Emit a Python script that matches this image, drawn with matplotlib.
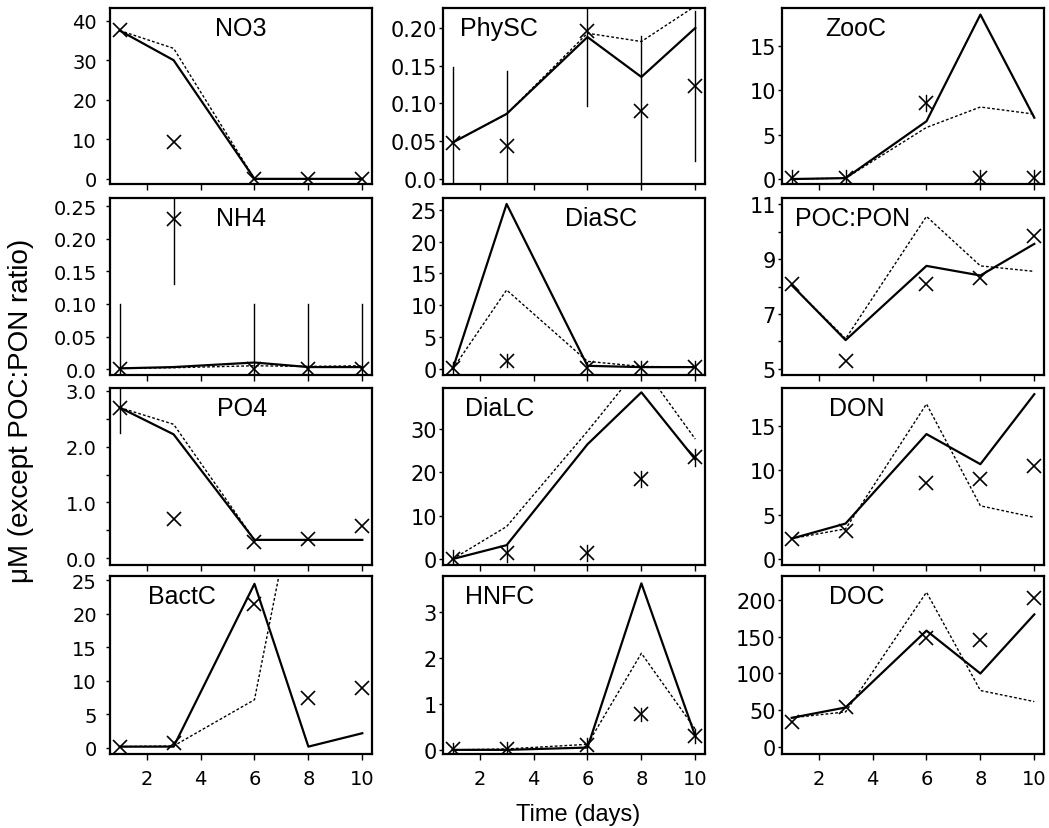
import matplotlib
matplotlib.use("Agg")
import matplotlib.pyplot as plt
import numpy as np

plt.rcParams['font.family'] = ['Liberation Sans', 'DejaVu Sans']

days = [1, 3, 6, 8, 10]

# solid = model run, dotted = alternative run, obs = measured (x), sd = error bar
no3_model = [37.5, 30.0, 0.0, 0.0, 0.0]
no3_alt = [37.5, 33.0, 0.0, 0.0, 0.0]
no3_obs = [37.7, 9.2, 0.0, 0.0, 0.0]
no3_sd = [0, 0, 0, 0, 0]

physc_model = [0.048, 0.086, 0.188, 0.135, 0.200]
physc_alt = [0.048, 0.086, 0.193, 0.182, 0.229]
physc_obs = [0.048, 0.043, 0.196, 0.090, 0.123]
physc_sd = [0.10, 0.10, 0.10, 0.10, 0.10]

zooc_model = [0.0, 0.1, 6.5, 18.5, 6.9]
zooc_alt = [0.0, 0.1, 5.8, 8.1, 7.3]
zooc_obs = [0.1, 0.1, 8.6, 0.1, 0.1]
zooc_sd = [0.9, 0.9, 0.9, 0.9, 0.9]

nh4_model = [0.001, 0.003, 0.010, 0.003, 0.003]
nh4_alt = [0.001, 0.002, 0.005, 0.004, 0.005]
nh4_obs = [0.0, 0.23, 0.0, 0.0, 0.0]
nh4_sd = [0.10, 0.10, 0.10, 0.10, 0.10]

diasc_model = [0.0, 25.9, 0.5, 0.3, 0.3]
diasc_alt = [0.0, 12.4, 1.2, 0.4, 0.3]
diasc_obs = [0.1, 1.3, 0.1, 0.2, 0.3]
diasc_sd = [1.0, 1.0, 1.0, 1.0, 1.0]

cn_model = [8.05, 6.05, 8.75, 8.4, 9.55]
cn_alt = [8.05, 6.1, 10.55, 8.75, 8.55]
cn_obs = [8.1, 5.3, 8.1, 8.3, 9.85]
cn_sd = [0, 0, 0, 0, 0]

po4_model = [2.70, 2.22, 0.33, 0.33, 0.33]
po4_alt = [2.70, 2.40, 0.33, 0.33, 0.33]
po4_obs = [2.70, 0.70, 0.30, 0.35, 0.58]
po4_sd = [0.45, 0, 0, 0, 0]

dialc_model = [0.0, 3.2, 26.5, 38.5, 23.0]
dialc_alt = [0.0, 7.5, 29.5, 44.9, 27.7]
dialc_obs = [0.1, 1.3, 1.4, 18.5, 23.5]
dialc_sd = [1.9, 1.9, 1.9, 1.9, 1.9]

don_model = [2.3, 4.0, 14.1, 10.7, 18.6]
don_alt = [2.3, 3.4, 17.5, 6.0, 4.7]
don_obs = [2.3, 3.2, 8.6, 9.0, 10.5]
don_sd = [0, 0, 0, 0, 0]

bactc_model = [0.2, 0.2, 24.5, 0.2, 2.2]
bactc_alt = [0.2, 0.3, 7.2, 48.0, 45.0]
bactc_obs = [0.1, 0.7, 21.5, 7.5, 9.0]
bactc_sd = [0, 0, 0, 0, 0]

hnfc_model = [0.0, 0.0, 0.05, 3.62, 0.3]
hnfc_alt = [0.0, 0.02, 0.12, 2.1, 0.45]
hnfc_obs = [0.01, 0.02, 0.1, 0.77, 0.3]
hnfc_sd = [0.15, 0.15, 0.15, 0.15, 0.15]

doc_model = [40, 54, 158, 100, 180]
doc_alt = [40, 48, 210, 77, 62]
doc_obs = [35, 55, 148, 145, 202]
doc_sd = [0, 0, 0, 0, 0]

names = ['NO3', 'PhySC', 'ZooC', 'NH4', 'DiaSC', 'POC:PON',
         'PO4', 'DiaLC', 'DON', 'BactC', 'HNFC', 'DOC']
series = [
    (no3_model, no3_alt, no3_obs, no3_sd),
    (physc_model, physc_alt, physc_obs, physc_sd),
    (zooc_model, zooc_alt, zooc_obs, zooc_sd),
    (nh4_model, nh4_alt, nh4_obs, nh4_sd),
    (diasc_model, diasc_alt, diasc_obs, diasc_sd),
    (cn_model, cn_alt, cn_obs, cn_sd),
    (po4_model, po4_alt, po4_obs, po4_sd),
    (dialc_model, dialc_alt, dialc_obs, dialc_sd),
    (don_model, don_alt, don_obs, don_sd),
    (bactc_model, bactc_alt, bactc_obs, bactc_sd),
    (hnfc_model, hnfc_alt, hnfc_obs, hnfc_sd),
    (doc_model, doc_alt, doc_obs, doc_sd),
]

# panel layout / axis settings
ylims = [(-1.3, 43.2), (-0.007, 0.2265), (-0.56, 19.24),
         (-0.0092, 0.263), (-0.94, 26.84), (4.78, 11.22),
         (-0.12, 3.05), (-1.38, 39.5), (-0.68, 19.3),
         (-0.9, 25.67), (-0.09, 3.78), (-9, 232)]
yticks = [([0, 10, 20, 30, 40], None),
          ([0, 0.05, 0.10, 0.15, 0.20], ['0.0', '0.05', '0.10', '0.15', '0.20']),
          ([0, 5, 10, 15], None),
          ([0, 0.05, 0.10, 0.15, 0.20, 0.25], ['0.0', '0.05', '0.10', '0.15', '0.20', '0.25']),
          ([0, 5, 10, 15, 20, 25], None),
          ([5, 6, 7, 8, 9, 10, 11], ['5', '', '7', '', '9', '', '11']),
          ([0, 0.5, 1, 1.5, 2, 2.5, 3], ['0.0', '', '1.0', '', '2.0', '', '3.0']),
          ([0, 10, 20, 30], None),
          ([0, 5, 10, 15], None),
          ([0, 5, 10, 15, 20, 25], None),
          ([0, 1, 2, 3], None),
          ([0, 50, 100, 150, 200], None)]
title_x = [0.40, 0.065, 0.164, 0.405, 0.466, 0.05,
           0.41, 0.084, 0.18, 0.145, 0.084, 0.18]

W, H = 1049, 829
cols = [(110, 372), (443, 705), (782, 1044)]
rows = [(9, 185), (199, 376), (389, 566), (577, 755)]
col_ylab_size = [14, 15, 15]
col_ylab_pad = [6.5, 1.5, 1.5]

fig = plt.figure(figsize=(W / 100, H / 100), dpi=100)

for k, name in enumerate(names):
    r, c = divmod(k, 3)
    x0, x1 = cols[c]
    y0, y1 = rows[r]
    ax = fig.add_axes([x0 / W, 1 - y1 / H, (x1 - x0) / W, (y1 - y0) / H])
    model, alt, obs, sd = series[k]
    ax.plot(days, alt, color='black', lw=1.0, ls=(0, (2, 1.5)))
    ax.plot(days, model, color='black', lw=1.6)
    for d, o, s in zip(days, obs, sd):
        if s > 0:
            ax.plot([d, d], [o - s, o + s], color='black', lw=1.0)
    ax.plot(days, obs, ls='none', marker='x', ms=10, mew=1.2, color='black')
    ax.set_xlim(0.64, 10.36)
    ax.set_ylim(*ylims[k])
    ax.set_xticks([2, 4, 6, 8, 10])
    ticks, labels = yticks[k]
    ax.set_yticks(ticks)
    if labels is not None:
        ax.set_yticklabels(labels)
    ax.tick_params(direction='out', width=1.0)
    ax.tick_params(axis='y', length=3, labelsize=col_ylab_size[c], pad=col_ylab_pad[c])
    ax.tick_params(axis='x', length=4.5, labelsize=14, pad=6)
    for lab in ax.get_xticklabels() + ax.get_yticklabels():
        lab.set_family('DejaVu Sans')
    if r < 3:
        ax.tick_params(axis='x', labelbottom=False)
    for sp in ax.spines.values():
        sp.set_linewidth(1.6)
    ax.text(title_x[k], 0.885, name, transform=ax.transAxes, ha='left',
            va='center', fontsize=18)

fig.text(578 / W, 1 - 815 / H, 'Time (days)', ha='center', va='center', fontsize=17)
fig.text(21 / W, 1 - 411 / H, 'μM (except POC:PON ratio)', ha='center',
         va='center', rotation=90, fontsize=20)

fig.savefig('out.png', dpi=100)
